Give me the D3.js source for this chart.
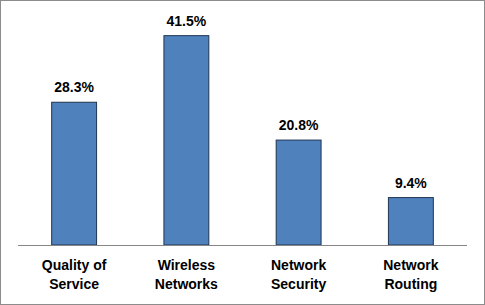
<!DOCTYPE html>
<html>
<head>
<meta charset="utf-8">
<script src="https://cdn.jsdelivr.net/npm/d3@7"></script>
<style>
  body { margin: 0; background: #fff; }
  text { font-family: "Liberation Sans", Arial, sans-serif; font-weight: bold; fill: #000; }
</style>
</head>
<body>
<div id="chart"></div>
<script>
// Data
var categories = [['Quality of', 'Service'], ['Wireless', 'Networks'], ['Network', 'Security'], ['Network', 'Routing']];
var values = [28.3, 41.5, 20.8, 9.4];

var width = 485;
var height = 305;
var baseY = 245;

var svg = d3.select('#chart').append('svg')
    .attr('width', width)
    .attr('height', height);

// chart frame
svg.append('rect')
    .attr('x', 0.5).attr('y', 0.5)
    .attr('width', width - 1).attr('height', height - 1)
    .attr('fill', '#fff')
    .attr('stroke', '#8c8c8c');

var xScale = d3.scaleBand()
    .domain(d3.range(values.length))
    .range([18, 467])
    .paddingInner(0.6)
    .paddingOuter(0.3);

var yScale = d3.scaleLinear()
    .domain([0, 45])
    .range([baseY, 18]);

// bars
svg.append('g').selectAll('rect')
    .data(values)
    .enter()
    .append('rect')
    .attr('x', (d, i) => xScale(i))
    .attr('y', d => yScale(d))
    .attr('width', xScale.bandwidth())
    .attr('height', d => yScale(0) - yScale(d))
    .attr('fill', '#4f81bd')
    .attr('stroke', '#1f3550')
    .attr('stroke-width', 1);

// baseline axis
svg.append('line')
    .attr('x1', 18).attr('x2', 467)
    .attr('y1', baseY + 0.5).attr('y2', baseY + 0.5)
    .attr('stroke', '#868686');

// value labels
svg.append('g').selectAll('text')
    .data(values)
    .enter()
    .append('text')
    .attr('x', (d, i) => xScale(i) + xScale.bandwidth() / 2)
    .attr('y', d => yScale(d) - 10)
    .attr('text-anchor', 'middle')
    .attr('font-size', 14)
    .text(d => d.toFixed(1) + '%');

// category labels, two lines each
var cats = svg.append('g').selectAll('text')
    .data(categories)
    .enter()
    .append('text')
    .attr('text-anchor', 'middle')
    .attr('font-size', 14);

cats.selectAll('tspan')
    .data((d, i) => d.map(t => ({ t: t, i: i })))
    .enter()
    .append('tspan')
    .attr('x', d => xScale(d.i) + xScale.bandwidth() / 2)
    .attr('y', (d, j) => 270 + j * 19)
    .text(d => d.t);
</script>
</body>
</html>
